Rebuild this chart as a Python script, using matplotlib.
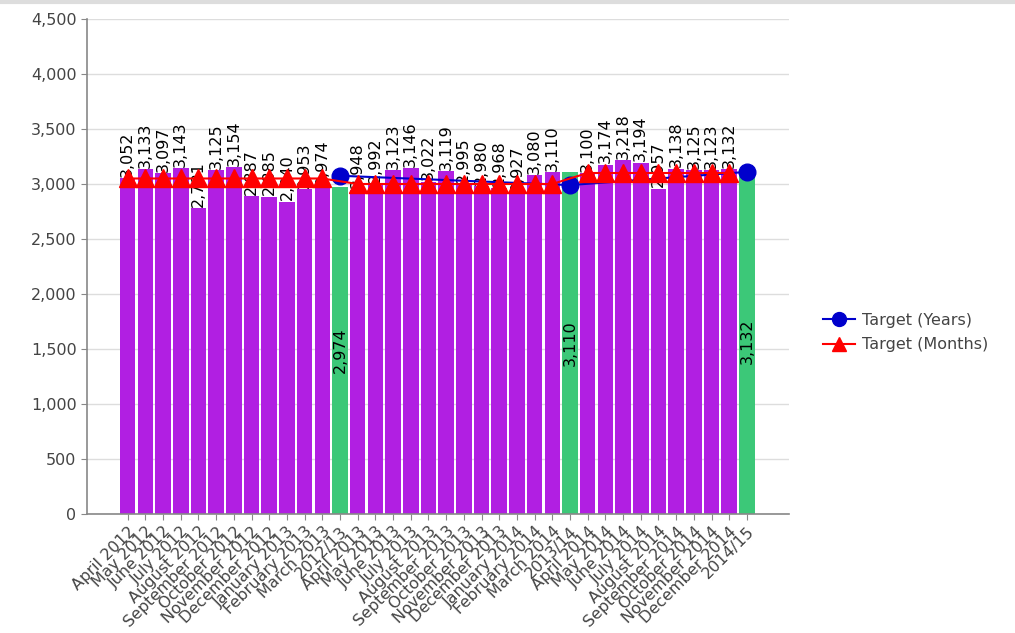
import matplotlib.pyplot as plt
from matplotlib.lines import Line2D
from matplotlib.ticker import FuncFormatter, MultipleLocator

months_1213 = ["April 2012", "May 2012", "June 2012", "July 2012", "August 2012",
               "September 2012", "October 2012", "November 2012", "December 2012",
               "January 2013", "February 2013", "March 2013"]
months_1314 = ["April 2013", "May 2013", "June 2013", "July 2013", "August 2013",
               "September 2013", "October 2013", "November 2013", "December 2013",
               "January 2014", "February 2014", "March 2014"]
months_1415 = ["April 2014", "May 2014", "June 2014", "July 2014", "August 2014",
               "September 2014", "October 2014", "November 2014", "December 2014"]
years = ["2012/13", "2013/14", "2014/15"]

values_1213 = [3052, 3133, 3097, 3143, 2781, 3125, 3154, 2887, 2885, 2840, 2953, 2974]
values_1314 = [2948, 2992, 3123, 3146, 3022, 3119, 2995, 2980, 2968, 2927, 3080, 3110]
values_1415 = [3100, 3174, 3218, 3194, 2957, 3138, 3125, 3123, 3132]
year_values = [2974, 3110, 3132]

target_years = [3075, 2990, 3110]
target_months = [3050, 3000, 3100]

PURPLE = "#b11fe2"
GREEN = "#3cc878"

# build the category axis: months of each year followed by the year total
labels, heights, kinds = [], [], []
month_x, month_target_y, year_x = [], [], []
groups = [(months_1213, values_1213), (months_1314, values_1314), (months_1415, values_1415)]
for i, (names, vals) in enumerate(groups):
    for name, v in zip(names, vals):
        month_x.append(len(labels))
        month_target_y.append(target_months[i])
        labels.append(name)
        heights.append(v)
        kinds.append("m")
    year_x.append(len(labels))
    labels.append(years[i])
    heights.append(year_values[i])
    kinds.append("y")

fig = plt.figure(figsize=(10.15, 6.33), dpi=100)
ax = fig.add_axes([0.0857, 0.188, 0.692, 0.782])

x = list(range(len(labels)))
colors = [PURPLE if k == "m" else GREEN for k in kinds]
ax.bar(x, heights, width=0.88, color=colors, zorder=2)

for xi, h, k in zip(x, heights, kinds):
    txt = f"{h:,}"
    if k == "m":
        ax.annotate(txt, (xi, h), xytext=(0, 1), textcoords="offset points",
                    rotation=90, ha="center", va="bottom", fontsize=11.5,
                    color="black", zorder=3)
    else:
        ax.text(xi, h / 2, txt, rotation=90, ha="center", va="center",
                fontsize=11.5, color="black", zorder=3)

ax.plot(year_x, target_years, color="#0000cc", marker="o", markersize=12,
        linewidth=1.5, zorder=4)
ax.plot(month_x, month_target_y, color="#ff0000", marker="^", markersize=13,
        linewidth=1.5, zorder=5)

ax.set_xlim(-2.3, len(labels) - 0.5 + 1.9)
ax.set_ylim(0, 4500)
ax.yaxis.set_major_locator(MultipleLocator(500))
ax.yaxis.set_major_formatter(FuncFormatter(lambda v, p: f"{int(v):,}"))
ax.grid(axis="y", color="#dddddd", linewidth=1, zorder=0)
ax.set_axisbelow(True)

ax.set_xticks(x)
ax.set_xticklabels(labels, rotation=45, ha="right", rotation_mode="anchor",
                   fontsize=11.5, color="#444444")
ax.tick_params(axis="y", labelsize=11.5, colors="#444444", length=4, color="#888888")
ax.tick_params(axis="x", length=4, color="#888888", pad=3)

for side in ("top", "right"):
    ax.spines[side].set_visible(False)
for side in ("left", "bottom"):
    ax.spines[side].set_color("#888888")
    ax.spines[side].set_linewidth(1.2)

handles = [
    Line2D([], [], color="#0000cc", marker="o", markersize=10, linewidth=1.5),
    Line2D([], [], color="#ff0000", marker="^", markersize=10, linewidth=1.5),
]
fig.legend(handles, ["Target (Years)", "Target (Months)"], loc="center left",
           bbox_to_anchor=(0.797, 0.475), frameon=False, fontsize=11.5,
           labelcolor="#444444", handlelength=2.0, handletextpad=0.4,
           labelspacing=0.6)

fig.add_artist(Line2D([0, 1], [0.997, 0.997], color="#dddddd", linewidth=3))

fig.savefig("out.png", dpi=100)
